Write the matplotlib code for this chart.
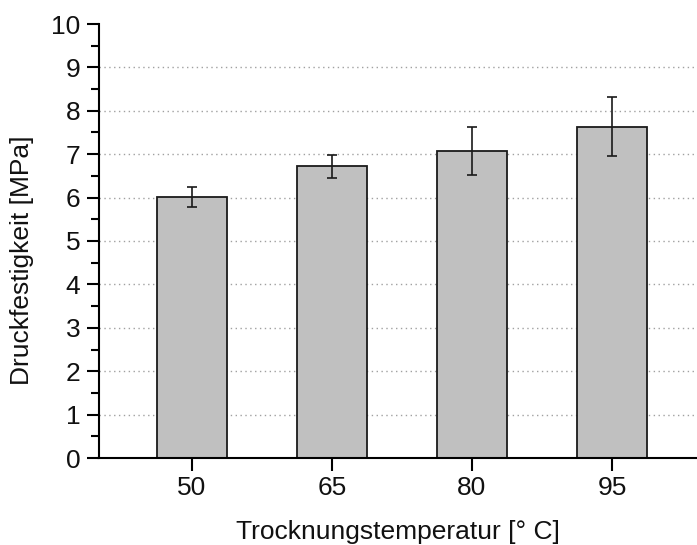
import matplotlib
matplotlib.use("Agg")
import matplotlib.pyplot as plt
from matplotlib.ticker import MultipleLocator

plt.rcParams['font.family'] = ['Liberation Sans', 'DejaVu Sans']

temperatures = ["50", "65", "80", "95"]
strength_mean = [6.01, 6.72, 7.08, 7.63]
strength_err = [0.23, 0.26, 0.55, 0.68]

fig = plt.figure(figsize=(6.97, 5.45), dpi=100)
ax = fig.add_axes([98.5 / 697, 1 - 458 / 545, 1 - 98.5 / 697, (458 - 24) / 545])

x = list(range(len(temperatures)))
ax.bar(x, strength_mean, width=0.5, color="#c0c0c0", edgecolor="#1a1a1a",
       linewidth=1.3, zorder=2)
ax.errorbar(x, strength_mean, yerr=strength_err, fmt="none", ecolor="#1a1a1a",
            elinewidth=1.2, capsize=3.6, capthick=1.2, zorder=3)

ax.set_xlim(-0.667, 3.607)
ax.set_ylim(0, 10)
ax.set_xticks(x)
ax.set_xticklabels(temperatures)
ax.yaxis.set_major_locator(MultipleLocator(1))
ax.yaxis.set_minor_locator(MultipleLocator(0.5))

for v in range(1, 10):
    ax.axhline(v, color="#a0a0a0", linestyle=(0, (1, 2.5)), linewidth=1.0, zorder=1)

for side in ("top", "right"):
    ax.spines[side].set_visible(False)
for side in ("left", "bottom"):
    ax.spines[side].set_linewidth(1.5)
    ax.spines[side].set_color("#000000")

ax.tick_params(axis="both", which="major", direction="out", length=9, width=1.5,
               labelsize=19, pad=4, labelcolor="#111111")
ax.tick_params(axis="y", which="minor", direction="out", length=5.5, width=1.5)
ax.tick_params(axis="x", which="minor", length=0)

ax.set_ylabel("Druckfestigkeit [MPa]", fontsize=19, color="#111111")
ax.yaxis.set_label_coords(-0.107, 0.456)
ax.set_xlabel("Trocknungstemperatur [° C]", fontsize=19, labelpad=14, color="#111111")

fig.savefig("out.png", dpi=100)
